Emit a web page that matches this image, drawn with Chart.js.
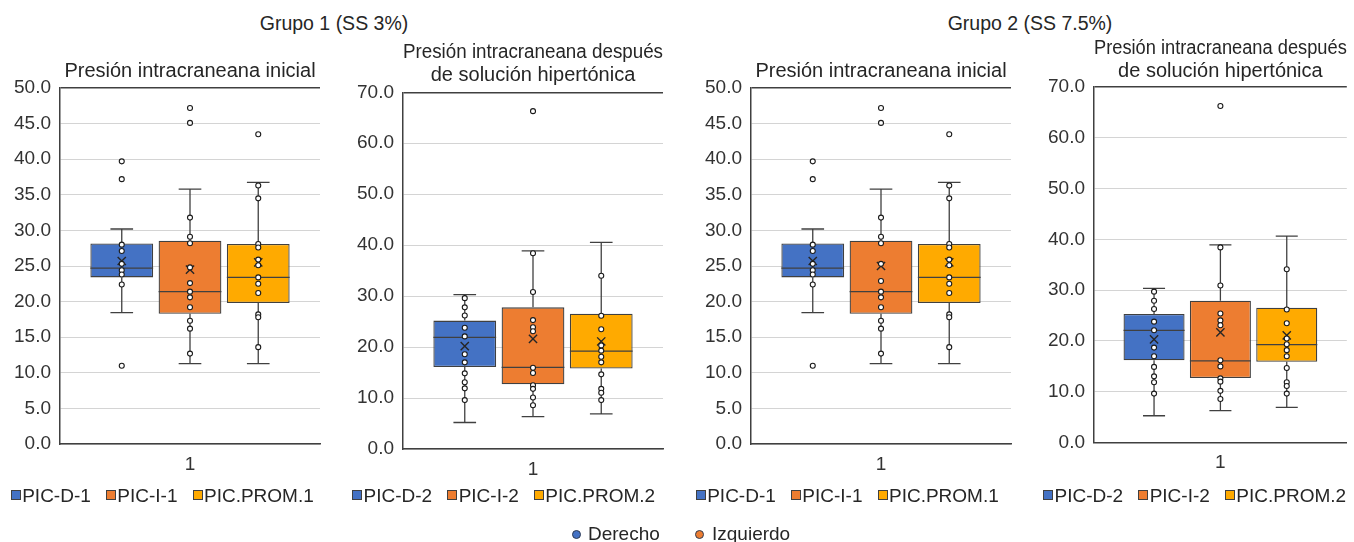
<!DOCTYPE html>
<html><head><meta charset="utf-8">
<script src="https://cdn.jsdelivr.net/npm/chart.js@4"></script>
<style>
html,body{margin:0;padding:0;background:#fff;width:1354px;height:542px;overflow:hidden;font-family:"Liberation Sans",Arial,sans-serif;color:#262626;}
.wrap{position:absolute;top:0;height:542px;}
.gt{position:absolute;top:11.5px;width:300px;text-align:center;font-size:19.5px;line-height:22px;color:#262626;}
.lg{position:absolute;top:523px;font-size:19px;line-height:22px;color:#262626;white-space:nowrap;}
.dot{position:absolute;top:529.5px;width:9px;height:9px;border-radius:50%;box-sizing:border-box;border:1px solid #2f3b52;}
.plg{position:absolute;top:485px;height:22px;display:flex;align-items:center;font-size:19px;line-height:22px;color:#262626;white-space:nowrap;}
.plg .it{display:flex;align-items:center;margin-right:15px;}
.plg .bx{width:10px;height:10px;box-sizing:border-box;border:1px solid #404040;margin-right:1.5px;position:relative;top:-1px;}
</style></head><body>
<div class="gt" style="left:184px">Grupo 1 (SS 3%)</div>
<div class="gt" style="left:880px">Grupo 2 (SS 7.5%)</div>
<div class="wrap" style="left:0px;width:330px"><canvas id="c1"></canvas></div>
<div class="wrap" style="left:343.3px;width:330px"><canvas id="c2"></canvas></div>
<div class="wrap" style="left:691px;width:330px"><canvas id="c3"></canvas></div>
<div class="wrap" style="left:1034px;width:320px"><canvas id="c4"></canvas></div>
<div class="plg" id="l1" style="left:10.7px"></div>
<div class="plg" id="l2" style="left:352px"></div>
<div class="plg" id="l3" style="left:695.7px"></div>
<div class="plg" id="l4" style="left:1043px"></div>
<div class="dot" style="left:572px;background:#4472c4"></div>
<div class="lg" style="left:588px">Derecho</div>
<div class="dot" style="left:695px;background:#ed7d31"></div>
<div class="lg" style="left:712px">Izquierdo</div>
<script>
// ---------------- DATA ----------------
const xTickLabels = ['1'];
const seriesG1 = ['PIC-D-1', 'PIC-I-1', 'PIC.PROM.1'];
const seriesG2 = ['PIC-D-2', 'PIC-I-2', 'PIC.PROM.2'];
const titleInitial = ['Presión intracraneana inicial'];
const titleAfter = ['Presión intracraneana después', 'de solución hipertónica'];
const yTicksInitial = [0, 50, 5];
const yTicksAfter = [0, 70, 10];

// Grupo 1 - inicial
const g1IniMin  = [18.45, 11.3, 11.3];
const g1IniQ1   = [23.4, 18.3, 19.8];
const g1IniMed  = [24.7, 21.4, 23.4];
const g1IniQ3   = [28.15, 28.55, 28.1];
const g1IniMax  = [30.2, 35.8, 36.75];
const g1IniMean = [25.7, 24.5, 25.5];
const g1IniPtsD = [39.7, 37.2, 28.0, 27.1, 25.3, 24.4, 23.8, 22.4, 11.0];
const g1IniPtsI = [47.2, 45.1, 31.8, 29.1, 28.2, 24.8, 22.6, 21.4, 20.6, 19.2, 17.3, 16.2, 12.7];
const g1IniPtsP = [43.5, 36.3, 34.5, 28.1, 27.6, 25.9, 25.1, 23.4, 22.5, 21.2, 18.2, 17.8, 13.6];

// Grupo 1 - después
const g1PostMin  = [5.2, 6.35, 6.9];
const g1PostQ1   = [16.1, 12.7, 15.8];
const g1PostMed  = [21.9, 16.0, 19.2];
const g1PostQ3   = [25.2, 27.8, 26.55];
const g1PostMax  = [30.3, 38.9, 40.55];
const g1PostMean = [20.2, 21.6, 21.1];
const g1PostPtsD = [29.6, 27.8, 26.2, 23.8, 22.1, 18.6, 17.0, 14.85, 13.1, 11.9, 9.6];
const g1PostPtsI = [66.3, 38.4, 30.8, 25.3, 23.9, 23.1, 15.95, 14.9, 12.5, 11.8, 10.1, 8.6];
const g1PostPtsP = [34.0, 26.15, 23.5, 20.3, 19.3, 18.1, 17.0, 14.65, 11.8, 11.05, 9.6];

// Grupo 2 - inicial
const g2IniMin  = [18.45, 11.3, 11.3];
const g2IniQ1   = [23.4, 18.3, 19.8];
const g2IniMed  = [24.7, 21.4, 23.4];
const g2IniQ3   = [28.15, 28.55, 28.1];
const g2IniMax  = [30.2, 35.8, 36.75];
const g2IniMean = [25.7, 25.0, 25.5];
const g2IniPtsD = [39.7, 37.2, 28.0, 27.1, 25.3, 24.4, 23.8, 22.4, 11.0];
const g2IniPtsI = [47.2, 45.1, 31.8, 29.1, 28.2, 25.3, 22.9, 21.4, 20.6, 19.2, 17.3, 16.2, 12.7];
const g2IniPtsP = [43.5, 36.3, 34.5, 28.1, 27.6, 25.9, 25.1, 23.4, 22.5, 21.2, 18.2, 17.8, 13.6];

// Grupo 2 - después
const g2PostMin  = [5.3, 6.3, 6.95];
const g2PostQ1   = [16.2, 12.7, 15.9];
const g2PostMed  = [22.1, 16.1, 19.3];
const g2PostQ3   = [25.3, 27.9, 26.55];
const g2PostMax  = [30.35, 38.9, 40.6];
const g2PostMean = [20.3, 21.7, 21.1];
const g2PostPtsD = [29.7, 27.9, 26.3, 23.8, 22.1, 18.7, 17.0, 14.9, 13.05, 11.9, 9.65];
const g2PostPtsI = [66.2, 38.4, 30.9, 25.4, 24.05, 23.1, 16.2, 15.0, 12.65, 12.0, 10.2, 8.6];
const g2PostPtsP = [34.1, 26.2, 23.5, 20.5, 19.35, 18.2, 17.0, 14.7, 11.9, 11.15, 9.65];

// ---------------- STYLE ----------------
const boxColors = ['#4472c4', '#ed7d31', '#ffaa00'];
const lineColor = '#404040';
const FONT = '"Liberation Sans", Arial, sans-serif';
Chart.defaults.font.family = FONT;
Chart.defaults.color = '#333333';
const BAR_RATIO = 0.92;     // box width in category units
const CAP_HALF = 0.166;     // whisker cap half-width in category units

function buildLegend(id, names) {
  const el = document.getElementById(id);
  names.forEach((n, i) => {
    const it = document.createElement('span');
    it.className = 'it';
    const bx = document.createElement('span');
    bx.className = 'bx';
    bx.style.background = boxColors[i];
    const tx = document.createElement('span');
    tx.textContent = n;
    it.appendChild(bx); it.appendChild(tx);
    el.appendChild(it);
  });
}

function buildDatasets(names, mins, q1s, meds, q3s, maxs, means, pts) {
  const ds = [];
  names.forEach((n, i) => {
    ds.push({
      type: 'bar', label: n,
      data: [{x: i, y: [q1s[i], q3s[i]]}],
      backgroundColor: boxColors[i], borderColor: lineColor, borderWidth: 1.3,
      borderSkipped: false, grouped: false, categoryPercentage: 1, barPercentage: BAR_RATIO,
      order: 5
    });
  });
  const wl = [];
  const half = BAR_RATIO / 2;
  names.forEach((n, i) => {
    wl.push({x: i, y: mins[i]}, {x: i, y: q1s[i]}, {x: i, y: null});
    wl.push({x: i, y: q3s[i]}, {x: i, y: maxs[i]}, {x: i, y: null});
    wl.push({x: i - CAP_HALF, y: maxs[i]}, {x: i + CAP_HALF, y: maxs[i]}, {x: i, y: null});
    wl.push({x: i - CAP_HALF, y: mins[i]}, {x: i + CAP_HALF, y: mins[i]}, {x: i, y: null});
    wl.push({x: i - half, y: meds[i]}, {x: i + half, y: meds[i]}, {x: i, y: null});
  });
  ds.push({
    type: 'line', label: 'whiskers', data: wl, borderColor: lineColor, borderWidth: 1.3,
    pointRadius: 0, spanGaps: false, tension: 0, fill: false, order: 2
  });
  ds.push({
    type: 'scatter', label: 'mean',
    data: means.map((m, i) => ({x: i, y: m})),
    pointStyle: 'crossRot', pointRadius: 5.8, borderColor: '#262626', borderWidth: 1.4,
    backgroundColor: 'transparent', order: 1
  });
  const pd = [];
  pts.forEach((arr, i) => arr.forEach(v => pd.push({x: i, y: v})));
  ds.push({
    type: 'scatter', label: 'points', data: pd,
    pointStyle: 'circle', pointRadius: 2.5, backgroundColor: '#ffffff',
    borderColor: '#1a1a1a', borderWidth: 1.1, order: 0
  });
  return ds;
}

function makePanel(id, cfg) {
  const [ymin, ymax, ystep] = cfg.yTicks;
  new Chart(document.getElementById(id), {
    type: 'scatter',
    data: {datasets: cfg.datasets},
    options: {
      responsive: true, maintainAspectRatio: false, animation: false, events: [],
      layout: {padding: {left: 0, right: cfg.padRight, top: 0, bottom: 61.3}},
      plugins: {
        tooltip: {enabled: false},
        legend: {display: false},
        title: {
          display: true, text: cfg.title, fullSize: false, color: '#262626',
          font: {size: 20, weight: 'normal', lineHeight: 1.15},
          padding: {top: cfg.titleTop, bottom: cfg.titleBottom}
        }
      },
      scales: {
        x: {
          type: 'linear', min: -0.905, max: 2.905, offset: false,
          afterBuildTicks: (s) => { s.ticks = [{value: 1}]; },
          afterFit: (s) => { s.height = cfg.xHeight; },
          ticks: {callback: () => xTickLabels[0], font: {size: 19}, padding: 9, color: '#333333', maxRotation: 0},
          grid: {drawOnChartArea: false, drawTicks: false, offset: false},
          border: {display: true, color: lineColor, width: 1.5}
        },
        y: {
          type: 'linear', min: ymin, max: ymax,
          afterFit: (s) => { s.width = 60; },
          ticks: {stepSize: ystep, callback: (v) => Number(v).toFixed(1), font: {size: 19}, padding: 9, color: '#333333'},
          grid: {
            drawTicks: false,
            color: (c) => (c.tick && c.tick.value === ymax) ? lineColor : '#d4d4d4',
            lineWidth: (c) => (c.tick && c.tick.value === ymax) ? 1.5 : 1
          },
          border: {display: true, color: lineColor, width: 1.5}
        }
      }
    }
  });
}

makePanel('c1', {
  datasets: buildDatasets(seriesG1, g1IniMin, g1IniQ1, g1IniMed, g1IniQ3, g1IniMax, g1IniMean, [g1IniPtsD, g1IniPtsI, g1IniPtsP]),
  yTicks: yTicksInitial, title: titleInitial, titleTop: 59.5, titleBottom: 5.5, xHeight: 36.7, padRight: 10
});
makePanel('c2', {
  datasets: buildDatasets(seriesG1, g1PostMin, g1PostQ1, g1PostMed, g1PostQ3, g1PostMax, g1PostMean, [g1PostPtsD, g1PostPtsI, g1PostPtsP]),
  yTicks: yTicksAfter, title: titleAfter, titleTop: 40.5, titleBottom: 5.8, xHeight: 31.7, padRight: 10
});
makePanel('c3', {
  datasets: buildDatasets(seriesG1, g2IniMin, g2IniQ1, g2IniMed, g2IniQ3, g2IniMax, g2IniMean, [g2IniPtsD, g2IniPtsI, g2IniPtsP]),
  yTicks: yTicksInitial, title: titleInitial, titleTop: 59.5, titleBottom: 5.5, xHeight: 36.7, padRight: 10
});
makePanel('c4', {
  datasets: buildDatasets(seriesG2, g2PostMin, g2PostQ1, g2PostMed, g2PostQ3, g2PostMax, g2PostMean, [g2PostPtsD, g2PostPtsI, g2PostPtsP]),
  yTicks: yTicksAfter, title: titleAfter, titleTop: 37, titleBottom: 3.7, xHeight: 38, padRight: 1
});
buildLegend('l1', seriesG1);
buildLegend('l2', seriesG2);
buildLegend('l3', seriesG1);
buildLegend('l4', seriesG2);
</script>
</body></html>
